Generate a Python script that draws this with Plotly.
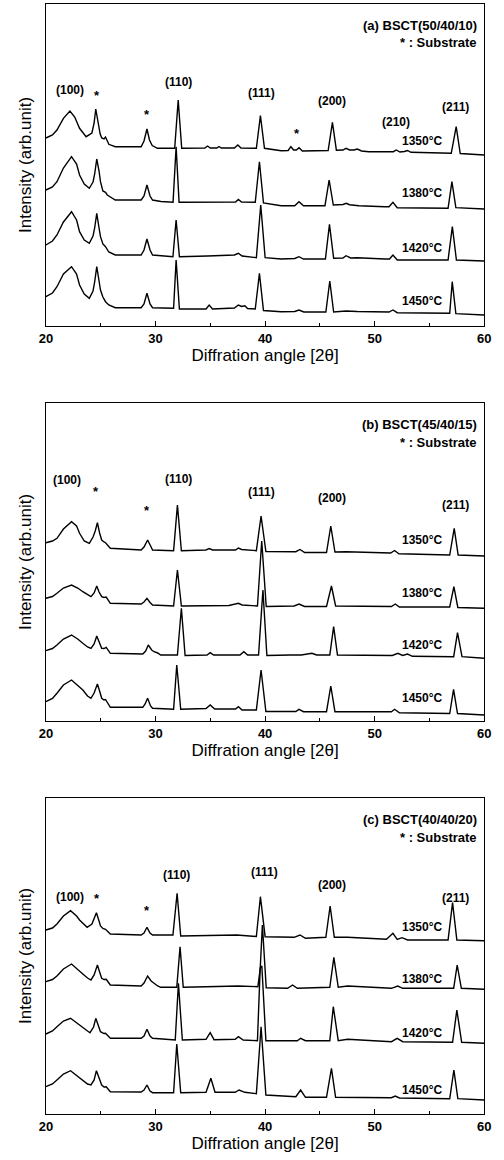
import plotly.graph_objects as go

# ---------------- data: (2theta, intensity) ----------------
temps = ["1350°C", "1380°C", "1420°C", "1450°C"]
panel_titles = ["(a) BSCT(50/40/10)", "(b) BSCT(45/40/15)", "(c) BSCT(40/40/20)"]
x_ticks = [20, 30, 40, 50, 60]

A_1350 = [(20.0,188),(20.6,191),(21.01,196),(21.6,207.7),(22.19,215),(22.63,209),(23.07,197.7),(23.67,189.3),(24.2,193),(24.4,203),(24.55,217),(24.75,205),(24.95,192),(25.1,188),(25.3,187),(25.44,189),(25.74,181.7),(26.33,179.3),(28.69,179.3),(28.95,185),(29.22,197),(29.45,186),(29.7,180.5),(30.17,177.7),(31.75,177.7),(32.07,226),(32.39,177.7),(34.5,178),(34.75,180),(35.0,178),(35.6,178),(35.79,179.5),(36.0,178),(37.2,178),(37.51,181),(37.8,178),(39.2,177.7),(39.57,210.3),(39.94,177.7),(41.46,175.3),(42.1,175.5),(42.35,179.3),(42.6,176),(42.85,176),(43.09,178.3),(43.4,175),(45.75,175.5),(46.14,203.7),(46.5,175.8),(47.1,176),(47.38,177.7),(47.7,176),(48.1,176),(48.41,177),(48.8,175),(49.45,174.3),(51.7,174.3),(51.96,176),(52.3,174),(52.7,174.5),(52.99,175.5),(53.3,173.7),(56.98,172.7),(57.43,199.3),(57.8,172.5),(59.97,171)]
A_1380 = [(20.0,136),(20.6,139),(21.01,144.3),(21.6,158),(22.34,169.3),(22.8,162),(23.07,151),(23.5,142),(23.96,137.7),(24.3,144),(24.45,152),(24.64,167),(24.85,155),(24.98,144.3),(25.2,135),(25.44,133.7),(25.6,131),(26.33,126),(28.69,126),(28.95,130),(29.22,141),(29.5,130),(29.73,126),(30.5,124.5),(31.6,123.7),(31.88,179.3),(32.15,123.7),(34.61,123.7),(36.5,124),(37.3,124),(37.56,126.5),(37.85,124),(39.1,123.7),(39.48,164.3),(39.85,123),(41.46,120.3),(42.7,120.3),(43.09,124.3),(43.5,120.3),(45.46,120.3),(45.84,146),(46.22,121),(47.1,121.5),(47.4,122.7),(47.7,121.3),(48.56,120.3),(50.92,119.3),(51.3,119.3),(51.66,123.7),(52.05,118.3),(56.69,117.7),(57.04,144.3),(57.4,118.3),(59.97,117)]
A_1420 = [(20.0,81),(20.6,85),(21.01,91),(21.6,104),(22.34,114.3),(22.8,106),(23.07,94.3),(23.5,86),(23.96,82.7),(24.3,90),(24.45,98),(24.64,112.7),(24.85,98),(24.98,89.3),(25.2,82),(25.44,79.3),(25.74,74),(26.33,71),(28.69,71),(28.95,76),(29.22,87),(29.5,76),(29.73,71),(31.59,69.3),(31.88,106),(32.18,69.3),(34.75,70),(35.79,70.5),(37.2,71),(37.56,72.7),(37.9,70),(39.2,68.3),(39.6,121),(40.0,68.3),(41.46,67),(42.7,67.5),(43.09,69.3),(43.5,67),(45.5,67),(45.87,101.7),(46.25,67.7),(47.1,68),(47.38,70.3),(47.8,68),(48.41,68.3),(50.92,67),(51.35,67),(51.66,71),(52.05,66),(56.69,66),(57.08,99.3),(57.45,66),(59.97,65)]
A_1450 = [(20.0,29.3),(20.6,33),(21.01,39.3),(21.6,52),(22.34,59.3),(22.8,52),(23.07,41),(23.5,32),(23.96,27.7),(24.3,35),(24.45,44),(24.64,59.3),(24.85,45),(24.98,36),(25.2,29),(25.44,24.3),(25.74,21),(26.33,18.3),(28.69,18.3),(28.95,22),(29.22,32.7),(29.5,22),(29.73,18.3),(31.65,17.7),(31.88,66),(32.18,17),(34.61,17),(34.9,21),(35.2,17),(37.2,18),(37.56,21),(37.85,19.5),(38.15,20.3),(38.4,17.5),(39.1,17),(39.48,52.7),(39.85,15.5),(41.46,14.3),(42.7,14.5),(43.09,16),(43.53,14),(45.54,14),(45.9,45),(46.25,14),(47.38,15),(48.41,14.5),(51.3,14),(51.66,16),(52.05,13.3),(56.84,12.7),(57.07,44.3),(57.4,12.3),(59.97,11)]

B_1350 = [(20.0,178.3),(20.6,180),(21.01,182.7),(21.6,192),(22.34,199.3),(22.8,195),(23.07,187.7),(23.5,180),(23.96,177.7),(24.3,184),(24.5,190),(24.7,198.3),(24.9,188),(25.09,181),(25.3,179),(25.44,178.3),(25.88,172.7),(28.69,171),(28.95,174),(29.28,181),(29.6,174),(29.73,171),(31.65,170.3),(32.0,216),(32.36,170.3),(34.6,171),(34.9,172.5),(35.2,171),(37.3,171),(37.56,173),(37.85,171.5),(39.2,170.3),(39.63,205),(40.07,169.5),(42.8,169.3),(43.18,171.5),(43.6,168.5),(45.6,168.5),(45.99,195),(46.37,169),(47.4,169.3),(50.92,167.7),(51.45,168),(51.81,170.5),(52.2,167.3),(56.84,166),(57.25,192.7),(57.61,166),(59.97,165)]
B_1380 = [(20.0,122.7),(20.6,124.5),(21.01,127.7),(21.6,133),(22.34,136),(22.9,133),(23.37,129.3),(23.8,126),(24.11,124.3),(24.4,128),(24.64,135),(24.85,129),(25.09,124.3),(25.3,123.5),(25.5,124),(25.88,117.7),(28.69,117),(28.95,119),(29.22,122.7),(29.5,118.5),(29.73,116),(31.65,115),(32.0,151),(32.36,115),(36.7,115.5),(37.56,117.7),(37.9,116),(39.3,115),(39.69,180),(40.1,114.5),(42.65,115),(43.09,117),(43.6,114.5),(45.6,114.5),(46.05,135),(46.43,115),(51.52,114.5),(51.87,117),(52.25,114),(56.84,114),(57.22,134.3),(57.58,113.5),(59.97,112.7)]
B_1420 = [(20.0,70.3),(20.6,72.5),(21.01,76),(21.6,82),(22.34,86),(22.9,82),(23.37,77.7),(23.8,74),(24.11,72.7),(24.4,77),(24.64,85),(24.85,79),(25.09,72.7),(25.3,72.5),(25.5,73.7),(25.88,67.7),(28.84,67),(29.1,70),(29.34,76),(29.65,71),(29.87,69.3),(30.2,68),(30.47,66),(32.0,66),(32.36,112.7),(32.7,65.5),(34.7,66),(34.99,68.3),(35.3,66),(37.7,66),(38.06,69.3),(38.4,66),(39.4,66),(39.8,131),(40.16,65.5),(42.3,66),(43.3,66),(44.27,67.7),(44.7,66),(45.9,66),(46.25,94.3),(46.6,66),(51.6,65.5),(52.11,67.7),(52.55,65.5),(52.99,67),(53.44,64.7),(57.2,64.3),(57.55,88.3),(57.96,64.3),(59.97,62.7)]
B_1450 = [(20.0,19.3),(20.6,22.5),(21.01,27.7),(21.6,36),(22.34,41),(22.9,36),(23.37,31),(23.8,25),(24.11,22.7),(24.4,28),(24.7,37),(24.9,30),(25.09,22.7),(25.3,21),(25.44,21.5),(25.88,13.7),(28.84,13.7),(29.05,17),(29.28,22.7),(29.55,15),(29.73,12.7),(31.65,11.7),(31.94,56),(32.3,11.7),(34.61,12.5),(34.99,16),(35.4,12),(37.3,12),(37.56,14.3),(37.9,11),(39.2,11),(39.63,51),(40.07,9.5),(42.8,9.5),(43.09,11.7),(43.5,9.3),(45.6,9.3),(45.99,35),(46.37,9.3),(51.52,9.3),(51.81,11.7),(52.25,8.3),(56.84,7.5),(57.19,31.7),(57.55,7.5),(59.97,6)]

C_1350 = [(20.0,184),(20.6,186),(21.01,190),(21.6,198),(22.25,203.3),(22.8,198),(23.07,194),(23.5,189),(23.76,186.7),(24.2,190),(24.61,201.3),(24.85,193),(24.98,188),(25.2,185.5),(25.44,184.7),(25.88,180),(28.69,179),(28.95,181),(29.22,186.7),(29.5,181),(29.73,179),(31.59,179),(31.97,220.7),(32.3,178),(36.5,178.5),(37.4,179),(39.2,177.5),(39.57,217.3),(40.0,177.3),(42.65,176.7),(43.18,179),(43.68,175.7),(45.54,176.7),(45.93,208),(46.31,176.7),(47.52,176.7),(51.07,174.7),(51.66,180.7),(52.05,174.7),(52.49,176.3),(52.99,174),(56.69,174),(57.1,211.3),(57.49,174),(59.97,173.3)]
C_1380 = [(20.0,132.3),(20.6,134.5),(21.01,138),(21.6,145),(22.34,150),(22.9,145),(23.37,140),(23.8,136),(24.11,134),(24.4,139),(24.7,149),(24.9,142),(25.09,135.7),(25.3,134.5),(25.5,134.7),(25.88,129),(28.69,128),(28.95,131),(29.28,138),(29.6,133),(29.87,130.7),(30.2,128),(30.47,126.7),(31.94,126.7),(32.24,167.3),(32.53,126.7),(34.61,127.3),(37.56,128),(39.34,127.3),(39.55,145),(39.75,189),(40.1,126.3),(42.05,125.7),(42.5,129),(42.94,125.7),(45.9,126.7),(46.27,156.7),(46.67,126.7),(47.52,128),(51.52,125.7),(52.11,128),(52.55,125.7),(57.2,125.7),(57.52,149),(57.9,125.7),(59.97,124.7)]
C_1420 = [(20.0,80),(20.6,83),(21.01,87.3),(21.6,93),(22.25,95.7),(22.9,90),(23.37,86.7),(23.8,83),(24.02,81.3),(24.35,87),(24.55,95.7),(24.85,87),(24.98,82.3),(25.3,80.5),(25.44,80.7),(25.88,75.7),(28.69,75.7),(28.95,78),(29.22,84.7),(29.5,78),(29.73,75.7),(31.8,74),(32.09,130.7),(32.45,74),(34.61,74.7),(34.99,81.3),(35.34,74.3),(37.27,74.7),(37.56,77.3),(38.0,74),(39.3,73.3),(39.55,146),(39.7,148),(40.07,73.3),(42.94,73.3),(43.24,75.7),(43.68,73.3),(45.9,73.3),(46.22,107.3),(46.67,73.3),(47.52,74.7),(51.52,72.3),(52.05,75.7),(52.55,72.3),(57.1,71.7),(57.49,104),(57.93,71.7),(59.97,70.7)]
C_1450 = [(20.0,27.3),(20.6,30),(21.01,34),(21.6,40),(22.25,43.3),(22.9,38),(23.37,33.3),(23.8,30),(24.11,29),(24.4,34),(24.61,43.3),(24.85,35),(25.09,29),(25.3,27),(25.5,27.3),(25.88,22.3),(28.69,22),(28.95,24),(29.22,29),(29.5,23),(29.73,21.3),(31.65,21.3),(31.94,70),(32.3,21.3),(34.61,21.7),(35.05,35.7),(35.43,21.7),(37.27,21.7),(37.62,24),(38.15,21.7),(39.2,20.3),(39.63,87.3),(40.07,19),(42.8,17.3),(43.24,24),(43.68,16.7),(45.6,16.7),(46.05,45.7),(46.43,16.7),(51.52,16.3),(51.87,18),(52.25,16),(56.84,15.3),(57.22,44),(57.58,15.3),(59.97,14)]

panels = [[A_1350, A_1380, A_1420, A_1450],
          [B_1350, B_1380, B_1420, B_1450],
          [C_1350, C_1380, C_1420, C_1450]]

# peak labels: (text, 2theta, height) per panel
labels_a = [("(100)",22.2,236),("*",24.67,231),("*",29.22,212),("(110)",32.12,244),("(111)",39.66,233),("*",42.9,193),("(200)",46.1,225),("(210)",51.93,204),("(211)",57.4,219)]
labels_b = [("(100)",21.95,241),("*",24.6,229),("*",29.22,210),("(110)",32.12,242),("(111)",39.66,229),("(200)",46.1,223),("(211)",57.4,216)]
labels_c = [("(100)",22.2,217),("*",24.67,216),("*",29.22,204),("(110)",31.9,239),("(111)",39.9,242),("(200)",46.1,229),("(211)",57.4,216)]
peak_labels = [labels_a, labels_b, labels_c]
temp_label_heights = [[185, 132.7, 77.7, 25], [181, 127.7, 76, 22.7], [187.3, 134.7, 80.7, 24]]
# ---------------------------------------------------------------------------

W, H = 504, 1160
left_px, right_px = 40, 491
boxes = [(4, 326), (403, 721), (798, 1114)]   # top, bottom in px

fig = go.Figure()
FONT = "Liberation Sans, Arial, sans-serif"

for i, (traces, (top, bot)) in enumerate(zip(panels, boxes)):
    n = "" if i == 0 else str(i + 1)
    for t, pts in zip(temps, traces):
        fig.add_trace(go.Scatter(x=[p[0] for p in pts], y=[p[1] for p in pts],
                                 mode="lines", line=dict(color="black", width=1.4),
                                 name=t, xaxis="x" + n, yaxis="y" + n,
                                 hoverinfo="skip"))
    ydom = [1 - bot / H, 1 - top / H]
    fig.layout["xaxis" + n] = dict(
        domain=[left_px / W, right_px / W], range=[20, 60], anchor="y" + n,
        showline=True, linecolor="black", linewidth=1.4, mirror=True,
        ticks="inside", ticklen=5, tickwidth=1.3, tickcolor="black",
        tick0=20, dtick=10, showgrid=False, zeroline=False,
        minor=dict(ticks="inside", ticklen=3, tickwidth=1, tickcolor="black", dtick=5, tick0=20, showgrid=False),
        tickfont=dict(family=FONT, size=13, color="black", weight="bold"),
        title=dict(text="Diffration angle [2θ]", font=dict(family=FONT, size=17, color="black"), standoff=4),
    )
    fig.layout["yaxis" + n] = dict(
        domain=ydom, range=[0, bot - top], anchor="x" + n,
        showline=True, linecolor="black", linewidth=1.4, mirror=True,
        ticks="", showticklabels=False, showgrid=False, zeroline=False,
        title=dict(text="Intensity (arb.unit)", font=dict(family=FONT, size=17, color="black"), standoff=8),
    )
    # panel title
    fig.add_annotation(text=panel_titles[i], xref="paper", yref="paper",
                       x=485 / W, y=1 - (top + 21) / H, xanchor="right", yanchor="middle",
                       showarrow=False, font=dict(family=FONT, size=13, color="black", weight="bold"))
    fig.add_annotation(text="* : Substrate", xref="paper", yref="paper",
                       x=485 / W, y=1 - (top + 39) / H, xanchor="right", yanchor="middle",
                       showarrow=False, font=dict(family=FONT, size=13, color="black", weight="bold"))
    for txt, xx, yy in peak_labels[i]:
        fig.add_annotation(text=txt, x=xx, y=yy, xref="x" + n, yref="y" + n,
                           showarrow=False, xanchor="center", yanchor="middle",
                           font=dict(family=FONT, size=12 if txt != "*" else 13, color="black", weight="bold"))
    for t, yy in zip(temps, temp_label_heights[i]):
        fig.add_annotation(text=t, x=54.35, y=yy, xref="x" + n, yref="y" + n,
                           showarrow=False, xanchor="center", yanchor="middle",
                           font=dict(family=FONT, size=12, color="black", weight="bold"))

fig.update_layout(width=W, height=H, margin=dict(l=0, r=0, t=0, b=0),
                  paper_bgcolor="white", plot_bgcolor="white", showlegend=False)

fig.write_html("out.html")
